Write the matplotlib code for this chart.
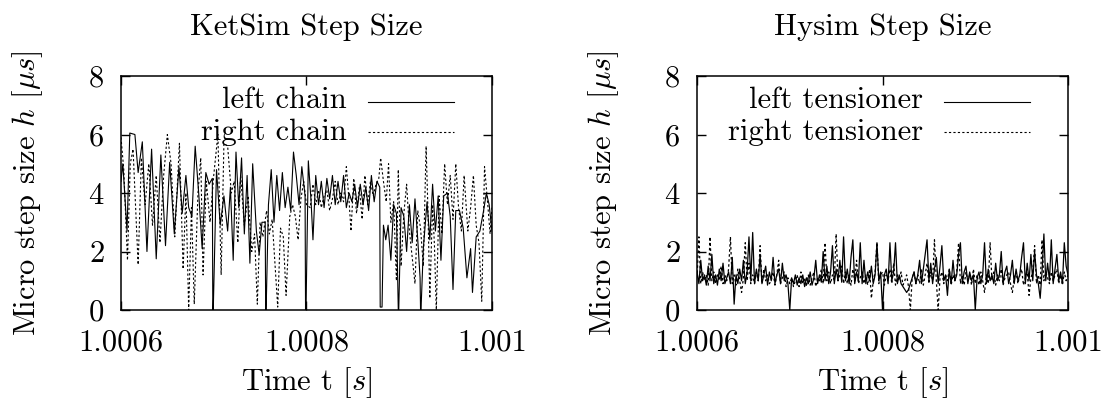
import matplotlib.pyplot as plt
import numpy as np

plt.rcParams['font.family'] = 'cmr10'
plt.rcParams['mathtext.fontset'] = 'cm'
plt.rcParams['font.size'] = 22
plt.rcParams['axes.titlesize'] = 22
plt.rcParams['axes.formatter.use_mathtext'] = True
plt.rcParams['axes.unicode_minus'] = False

# time axis
T0 = 1.0006
x_ticks = [1.0006, 1.0008, 1.001]
x_tick_labels = ['1.0006', '1.0008', '1.001']
y_ticks = [0, 2, 4, 6, 8]

# KetSim: time offset from T0 in microseconds, step size in microseconds
left_chain_t = [0, 2, 6.5, 9.5, 15, 18.5, 23, 28, 33, 38,
                43, 48, 52.5, 57.5, 62.5, 66, 70, 73, 76.5, 80,
                84, 87.5, 91.5, 95, 98.5, 99, 99.5, 103, 107, 111,
                115, 118, 121, 124, 127, 130, 133, 136, 139, 142,
                146, 149, 152, 155.5, 156, 156.5, 159, 162, 165, 168,
                171, 174, 177, 180, 183, 186, 189, 192, 195, 198.5,
                199, 199.5, 202, 205, 207, 210, 213, 216, 219, 222,
                225, 228, 231, 234, 237, 240, 243, 246, 249, 252,
                255, 258, 261, 264, 267, 270, 273, 276, 279, 279.5,
                281.5, 283, 285.5, 288, 291, 294, 297, 299, 299.5, 302,
                305, 308, 311, 314, 317, 320, 322.5, 323, 323.5, 326,
                330, 333, 336, 339, 342, 345, 348, 352, 355, 358,
                361, 365, 369, 373, 377, 379, 383, 387, 391, 394,
                397, 400]
left_chain_h = [4.4, 5.0, 2.7, 6.05, 6.0, 4.7, 5.75, 2.0, 5.5, 1.75,
                5.3, 2.2, 5.05, 2.6, 4.9, 3.3, 4.6, 3.5, 3.2, 5.6,
                3.9, 2.1, 4.7, 4.3, 4.5, 0.0, 0.0, 4.8, 2.9, 3.9,
                2.7, 4.2, 1.7, 5.4, 3.5, 5.2, 2.6, 4.6, 1.6, 5.0,
                2.7, 1.9, 3.0, 3.0, 0.0, 0.0, 3.6, 4.8, 3.0, 4.6,
                3.4, 4.7, 3.5, 4.2, 3.4, 5.4, 4.6, 3.6, 4.9, 3.9,
                0.0, 0.0, 5.1, 3.7, 2.4, 4.6, 3.6, 4.4, 3.5, 4.5,
                3.8, 4.6, 3.6, 4.4, 3.7, 4.6, 3.5, 4.0, 3.7, 4.3,
                3.5, 4.3, 3.6, 4.2, 3.4, 4.6, 3.7, 4.4, 4.2, 0.1,
                0.1, 2.9, 2.4, 2.9, 1.7, 3.6, 3.3, 0.0, 0.0, 3.5,
                3.2, 2.0, 3.6, 2.3, 3.8, 2.4, 1.1, 0.0, 0.0, 2.1,
                3.7, 2.4, 4.3, 2.7, 3.9, 1.7, 3.9, 4.0, 3.2, 0.7,
                3.4, 3.4, 2.8, 1.1, 2.1, 0.6, 2.5, 2.7, 3.4, 4.0,
                3.6, 2.7]

right_chain_t = [0, 3, 7, 10, 13, 18.5, 22, 26, 30, 34,
                 38, 42, 46, 50, 54, 58, 63, 67, 70, 73,
                 76, 79, 83, 86, 88.5, 92, 96, 100, 104.5, 108,
                 111, 115, 119, 122, 126, 129, 133, 137, 141, 144,
                 147, 150, 153, 157, 160, 163, 166, 169, 172, 175,
                 178, 182, 185, 188, 191, 194, 197, 200, 204, 207,
                 210, 213, 216, 219, 222, 225, 228, 231, 234, 237,
                 240, 243, 246, 248, 251, 254, 257, 260, 263, 266,
                 269, 272, 275, 278, 280, 283, 286, 288.5, 291, 294,
                 297, 299, 302, 305, 308, 311, 314, 317, 320, 323,
                 326, 329, 331, 333, 336, 338, 340, 343, 346, 349,
                 352, 355, 358, 361, 364, 367, 370, 374, 377, 380,
                 383, 386, 389, 392, 395, 398, 400]
right_chain_h = [5.9, 4.8, 1.7, 5.0, 5.5, 1.55, 5.2, 3.6, 5.0, 2.9,
                 4.6, 2.3, 4.6, 6.0, 5.0, 2.5, 5.7, 1.4, 4.0, 0.0,
                 3.5, 0.2, 4.0, 5.2, 1.2, 4.4, 3.0, 4.6, 6.0, 1.2,
                 5.7, 5.6, 4.0, 4.4, 2.3, 4.6, 2.9, 3.9, 2.0, 2.6,
                 0.2, 3.0, 2.5, 3.4, 2.6, 3.1, 1.6, 0.1, 2.8, 2.5,
                 0.5, 3.2, 3.6, 3.2, 2.4, 3.8, 4.4, 3.6, 3.5, 4.3,
                 3.6, 4.1, 3.5, 3.9, 4.1, 3.4, 3.8, 4.4, 3.6, 4.0,
                 3.7, 4.9, 3.7, 2.7, 4.5, 3.3, 4.2, 3.1, 4.6, 3.6,
                 4.4, 3.9, 4.3, 4.5, 5.2, 4.4, 3.7, 5.0, 3.0, 3.7,
                 1.0, 4.8, 1.5, 3.3, 4.3, 2.7, 1.8, 0.9, 3.4, 2.8,
                 1.5, 5.6, 3.4, 0.4, 3.6, 2.2, 0.0, 3.9, 2.6, 5.0,
                 3.6, 4.6, 3.1, 5.0, 3.5, 2.7, 4.6, 2.7, 3.5, 4.6,
                 2.9, 2.3, 0.3, 4.9, 3.8, 2.6, 3.5]

# Hysim: step sizes sampled every 2 microseconds from T0
left_tensioner_h = [1.3, 0.9, 1.7, 1.0, 1.2, 0.85, 1.5, 1.0, 1.9, 0.9,
                    1.2, 0.85, 1.4, 1.0, 1.6, 0.9, 1.1, 1.3, 0.9, 1.8,
                    0.2, 1.2, 0.9, 1.4, 1.0, 1.7, 0.9, 1.3, 2.5, 1.0,
                    2.65, 0.9, 1.4, 1.0, 1.9, 0.9, 1.2, 1.5, 0.85, 1.3,
                    1.0, 1.8, 0.9, 1.2, 1.4, 0.9, 1.6, 1.0, 1.2, 0.9,
                    0.0, 1.1, 0.9, 1.2, 0.85, 1.1, 0.9, 1.2, 0.8, 1.1,
                    0.9, 1.3, 0.85, 1.1, 1.7, 0.9, 1.2, 0.95, 2.0, 1.0,
                    1.5, 0.9, 1.3, 2.2, 0.9, 1.4, 1.0, 1.7, 0.95, 2.5,
                    1.0, 1.4, 0.9, 1.8, 2.4, 0.9, 1.3, 1.0, 2.3, 0.9,
                    1.7, 0.9, 1.3, 1.0, 1.5, 0.9, 1.2, 2.3, 1.0, 1.3,
                    0.0, 1.2, 1.4, 0.9, 2.3, 1.0, 1.3, 2.3, 0.9, 1.2,
                    0.9, 0.8, 0.7, 0.6, 0.7, 0.9, 1.1, 1.3, 0.9, 1.2,
                    1.7, 0.9, 1.4, 1.9, 2.4, 1.0, 1.6, 0.9, 1.4, 1.8,
                    0.9, 1.5, 2.2, 1.0, 1.2, 0.5, 1.4, 0.9, 1.7, 1.0,
                    1.2, 1.9, 2.3, 0.9, 1.3, 1.5, 0.9, 1.3, 1.0, 1.2,
                    0.0, 1.1, 1.3, 0.9, 1.2, 2.3, 0.9, 1.4, 1.0, 1.2,
                    0.9, 1.6, 1.0, 1.2, 2.0, 0.9, 1.3, 1.5, 0.9, 1.2,
                    1.7, 0.9, 1.4, 1.0, 1.2, 1.8, 2.3, 0.9, 1.6, 1.0,
                    1.9, 1.0, 2.0, 1.2, 0.9, 0.4, 1.3, 2.6, 1.0, 1.6,
                    1.0, 2.4, 0.9, 1.4, 1.9, 1.0, 1.3, 0.9, 2.3, 1.5, 1.2]
right_tensioner_h = [1.1, 2.5, 0.9, 1.3, 1.0, 1.2, 0.85, 2.5, 1.0, 1.3,
                     0.9, 1.2, 1.0, 1.5, 0.9, 1.2, 1.0, 1.4, 2.5, 0.9,
                     1.2, 0.85, 1.4, 1.0, 0.6, 1.1, 2.3, 1.0, 1.6, 0.9,
                     1.2, 0.9, 1.3, 1.0, 2.2, 0.9, 1.4, 1.0, 1.2, 0.9,
                     1.0, 1.3, 0.85, 1.2, 1.7, 0.9, 1.1, 1.3, 0.8, 1.1,
                     0.9, 1.1, 0.8, 1.0, 1.2, 0.8, 1.3, 0.9, 1.1, 0.8,
                     1.2, 0.85, 1.1, 1.3, 0.8, 1.1, 1.0, 1.4, 0.9, 2.3,
                     1.0, 1.3, 0.9, 1.2, 1.0, 2.6, 1.0, 1.2, 1.5, 0.9,
                     1.3, 0.9, 1.2, 0.85, 1.4, 1.0, 1.7, 0.9, 1.1, 1.3,
                     0.9, 1.2, 0.85, 1.4, 0.4, 1.0, 1.3, 2.3, 0.9, 1.2,
                     1.3, 0.85, 1.2, 1.0, 1.4, 0.9, 1.6, 0.85, 1.2, 1.0,
                     1.3, 0.85, 1.0, 1.2, 0.8, 0.0, 1.1, 1.3, 0.9, 1.2,
                     0.9, 1.4, 0.85, 1.2, 1.6, 0.9, 1.3, 1.0, 2.4, 1.0,
                     0.0, 1.1, 1.3, 0.9, 1.2, 1.0, 1.4, 0.85, 1.2, 1.0,
                     1.3, 2.3, 0.9, 1.2, 0.85, 1.3, 1.0, 1.2, 0.85, 1.4,
                     0.9, 1.2, 0.85, 1.3, 1.0, 0.6, 1.2, 0.9, 2.3, 1.0,
                     1.3, 0.85, 1.2, 1.0, 1.4, 0.85, 1.1, 1.2, 1.3, 0.9,
                     0.6, 1.1, 1.3, 0.9, 1.2, 1.4, 0.85, 1.1, 1.3, 0.5,
                     1.1, 1.3, 2.2, 0.9, 1.2, 0.85, 2.4, 1.0, 1.3, 1.1,
                     0.9, 1.3, 1.0, 1.2, 1.4, 0.9, 1.2, 0.85, 1.3, 1.0, 1.2]

DOTTED = (0, (2, 2))


def style(ax, title, labels):
    ax.set_xlim(1.0006, 1.001)
    ax.set_ylim(0, 8)
    ax.set_xticks(x_ticks)
    ax.set_xticklabels(x_tick_labels)
    ax.set_yticks(y_ticks)
    ax.tick_params(direction='in', length=6.5, width=1, top=True, right=True)
    ax.tick_params(axis='x', pad=14)
    ax.tick_params(axis='y', pad=12)
    for s in ax.spines.values():
        s.set_linewidth(1.1)
    ax.set_title(title, y=1.175, pad=0, fontsize=22)
    ax.set_xlabel('Time t [$s$]', va='top')
    ax.xaxis.set_label_coords(0.5, -0.235)
    ax.set_ylabel(r'Micro step size $h$ [$\mu s$]')
    ax.yaxis.set_label_coords(-0.205, 0.5)
    # gnuplot style key: text right aligned, sample to the right
    for (lab, ls), yl, yt in zip(labels, [0.89, 0.762], [0.863, 0.726]):
        ax.text(0.609, yt, lab, transform=ax.transAxes, ha='right', va='baseline')
        ax.plot([0.667, 0.898], [yl, yl], transform=ax.transAxes,
                color='black', lw=0.8, linestyle=ls)


fig = plt.figure(figsize=(11.11, 4.08), dpi=100)
fig.patch.set_facecolor('white')
ax1 = fig.add_axes([0.1089, 0.2402, 0.3339, 0.5735])
ax2 = fig.add_axes([0.6274, 0.2402, 0.3339, 0.5735])

#*****************************KetSim*************************************
ax1.plot(T0 + np.array(left_chain_t) * 1e-6, left_chain_h, color='black', lw=0.8)
ax1.plot(T0 + np.array(right_chain_t) * 1e-6, right_chain_h, color='black', lw=0.8,
         linestyle=DOTTED)
style(ax1, 'KetSim Step Size', [('left chain', '-'), ('right chain', DOTTED)])

#*****************************Hysim**************************************
t_left = np.linspace(1.0006, 1.001, len(left_tensioner_h))
t_right = np.linspace(1.0006, 1.001, len(right_tensioner_h))
ax2.plot(t_left, left_tensioner_h, color='black', lw=0.9)
ax2.plot(t_right, right_tensioner_h, color='black', lw=0.9, linestyle=DOTTED)
style(ax2, 'Hysim Step Size', [('left tensioner', '-'), ('right tensioner', DOTTED)])

fig.savefig('out.png', dpi=100)
